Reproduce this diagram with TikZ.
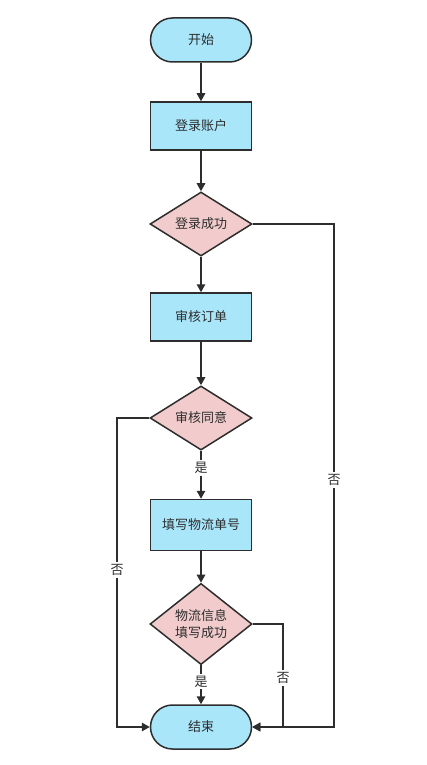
\documentclass[tikz,border=0pt]{standalone}
\usepackage{fontspec}
\setmainfont{Noto Sans CJK SC}
\usetikzlibrary{shapes.geometric,arrows.meta}
\definecolor{termfill}{RGB}{170,230,250}
\definecolor{decfill}{RGB}{242,204,204}
\definecolor{edge}{RGB}{45,45,45}
\tikzset{
  terminal/.style={draw=edge,fill=termfill,rounded corners=22pt,minimum width=101pt,minimum height=44pt,inner sep=0pt},
  process/.style={draw=edge,fill=termfill,minimum width=101pt,minimum height=48pt,inner sep=0pt},
  decision/.style={draw=edge,fill=decfill,diamond,minimum width=102pt,minimum height=58pt,inner sep=0pt,align=center},
  lbl/.style={fill=white,inner sep=2pt}
}
\begin{document}
\begin{tikzpicture}[x=1pt,y=-1pt,line width=1.5pt,color=edge,text=edge,
    font=\fontsize{13}{17}\selectfont,>={Triangle[length=8pt,width=8.5pt]}]
  \useasboundingbox (0,0) rectangle (427,765);
  % main column
  \node[terminal] (start) at (201,40) {开始};
  \node[process] (login) at (201,126) {登录账户};
  \node[decision] (loginok) at (201,224) {登录成功};
  \node[process] (review) at (201,317) {审核订单};
  \node[decision] (agree) at (201,418) {审核同意};
  \node[process,minimum height=51pt] (fill) at (201,525) {填写物流单号};
  \node[decision,minimum height=72pt] (fillok) at (201,624) {物流信息\\填写成功};
  \node[terminal] (end) at (201,727) {结束};
  % bends of the side lines
  \coordinate (noleft) at (117,570);
  \coordinate (nofill) at (283,678);
  \coordinate (noright) at (334,480);
  \draw[->] (start) -- (login);
  \draw[->] (login) -- (loginok);
  \draw[->] (loginok) -- (review);
  \draw[->] (review) -- (agree);
  \draw[->] (agree) -- node[lbl,pos=.36]{是} (fill);
  \draw[->] (fill) -- (fillok);
  \draw[->] (fillok) -- node[lbl,pos=.42]{是} (end);
  \draw[->] (agree.west) -| (noleft) node[lbl]{否} |- (end.west);
  \draw[->] (fillok.east) -| (nofill) node[lbl]{否} |- (end.east);
  \draw[->] (loginok.east) -| (noright) node[lbl]{否} |- (end.east);
\end{tikzpicture}
\end{document}
